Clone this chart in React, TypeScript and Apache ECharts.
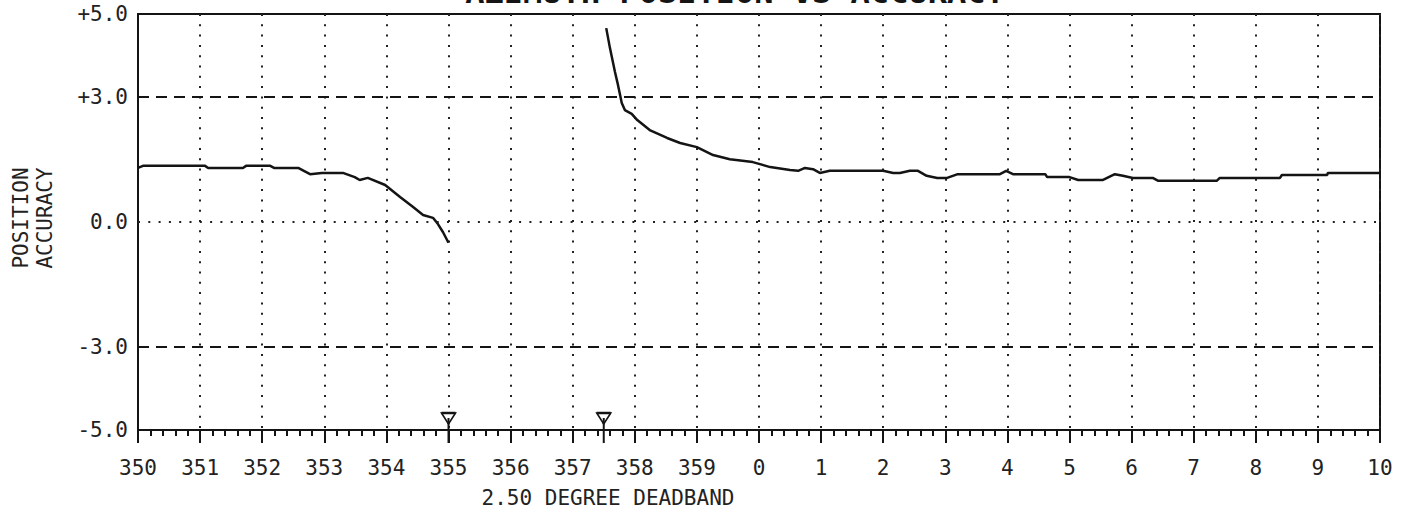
import React, { useEffect, useRef } from "react";
import * as echarts from "echarts";

// ---- data ----
const titleText = "AZIMUTH POSITION VS ACCURACY";
const xName = "2.50 DEGREE DEADBAND";
const yName = "POSITION\nACCURACY";

// azimuth expressed on an unwrapped scale (360 = 0 deg)
const xMin = 350;
const xMax = 370;
const yTickLabels: Record<string, string> = { "5": "+5.0", "3": "+3.0", "0": "0.0", "-3": "-3.0", "-5": "-5.0" };

const seg1X = [350.0, 350.08, 351.08, 351.13, 351.69, 351.74, 352.13, 352.19, 352.58, 352.77, 352.96, 353.3, 353.49, 353.57, 353.7, 353.98, 354.22, 354.43, 354.59, 354.75, 354.83, 354.91, 355.0];
const seg1Y = [1.3, 1.35, 1.35, 1.3, 1.3, 1.35, 1.35, 1.3, 1.3, 1.15, 1.18, 1.18, 1.08, 1.01, 1.06, 0.89, 0.6, 0.36, 0.17, 0.1, -0.05, -0.24, -0.5];

const seg2X = [357.54, 357.6, 357.68, 357.73, 357.79, 357.84, 357.95, 358.04, 358.24, 358.52, 358.73, 359.0, 359.26, 359.53, 359.9, 360.18, 360.5, 360.63, 360.74, 360.87, 360.98, 361.14, 362.0, 362.16, 362.27, 362.43, 362.56, 362.7, 362.87, 363.03, 363.2, 363.88, 363.98, 364.09, 364.61, 364.64, 365.0, 365.14, 365.54, 365.73, 365.86, 366.02, 366.34, 366.43, 367.37, 367.42, 368.39, 368.42, 369.15, 369.16, 370.0];
const seg2Y = [4.66, 4.18, 3.61, 3.29, 2.86, 2.69, 2.6, 2.45, 2.21, 2.02, 1.9, 1.8, 1.61, 1.51, 1.44, 1.32, 1.25, 1.23, 1.3, 1.27, 1.18, 1.23, 1.23, 1.18, 1.18, 1.23, 1.23, 1.11, 1.06, 1.06, 1.15, 1.15, 1.23, 1.15, 1.15, 1.08, 1.08, 1.01, 1.01, 1.15, 1.11, 1.06, 1.06, 0.99, 0.99, 1.06, 1.06, 1.13, 1.13, 1.18, 1.18];

const deadbandMarkers = [355, 357.5];
const dashedLevels = [3, -3];
const dottedLevels = [0];

const FONT = "'DejaVu Sans Mono', 'Liberation Mono', monospace";
const INK = "#141414";

export default function App() {
  const ref = useRef<HTMLDivElement>(null);

  useEffect(() => {
    if (!ref.current) return;
    const chart = echarts.init(ref.current, null, { renderer: "svg" });

    const seg1 = seg1X.map((x, i) => [x, seg1Y[i]]);
    const seg2 = seg2X.map((x, i) => [x, seg2Y[i]]);

    const option: any = {
      animation: false,
      backgroundColor: "#ffffff",
      grid: {
        left: 138,
        right: 34,
        top: 14,
        bottom: 81,
        show: true,
        borderColor: INK,
        borderWidth: 2,
        backgroundColor: "transparent",
      },
      xAxis: {
        type: "value",
        min: xMin,
        max: xMax,
        interval: 1,
        axisLine: { show: true, onZero: false, lineStyle: { color: INK, width: 2 } },
        axisTick: { show: true, inside: false, length: 13, lineStyle: { color: INK, width: 2 } },
        minorTick: { show: true, splitNumber: 5, length: 6, lineStyle: { color: INK, width: 2 } },
        axisLabel: {
          margin: 27,
          fontFamily: FONT,
          fontSize: 21,
          color: "#222",
          showMinLabel: true,
          showMaxLabel: true,
          formatter: (v: number) => String(v >= 360 ? v - 360 : v),
        },
        splitLine: { show: true, lineStyle: { color: "#222", width: 2, type: [2, 8.3] } },
      },
      yAxis: {
        type: "value",
        min: -5,
        max: 5,
        interval: 1,
        axisLine: { show: true, onZero: false, lineStyle: { color: INK, width: 2 } },
        axisTick: { show: false },
        splitLine: { show: false },
        axisLabel: {
          margin: 10,
          fontFamily: FONT,
          fontSize: 21,
          color: "#222",
          formatter: (v: number) => yTickLabels[String(v)] ?? "",
        },
      },
      graphic: [
        {
          type: "text",
          x: 735,
          y: -8,
          style: {
            text: titleText,
            font: `bold 32px ${FONT}`,
            fill: INK,
            align: "center",
            verticalAlign: "middle",
          },
        },
        {
          type: "text",
          x: 608,
          y: 498,
          style: {
            text: xName,
            font: `21px ${FONT}`,
            fill: "#222",
            align: "center",
            verticalAlign: "middle",
          },
        },
        {
          type: "text",
          x: 33,
          y: 218,
          rotation: Math.PI / 2,
          style: {
            text: yName,
            font: `21px ${FONT}`,
            lineHeight: 24,
            fill: "#222",
            align: "center",
            verticalAlign: "middle",
          },
        },
      ],
      series: [
        {
          type: "line",
          data: seg1,
          showSymbol: false,
          symbol: "none",
          lineStyle: { color: INK, width: 2.5 },
          markLine: {
            silent: true,
            symbol: "none",
            label: { show: false },
            data: [
              ...dashedLevels.map((v) => ({ yAxis: v, lineStyle: { color: INK, width: 2, type: [11, 7] } })),
              ...dottedLevels.map((v) => ({ yAxis: v, lineStyle: { color: "#222", width: 2, type: [2, 8.3] } })),
            ],
          },
          z: 3,
        },
        {
          type: "line",
          data: seg2,
          showSymbol: false,
          symbol: "none",
          lineStyle: { color: INK, width: 2.5 },
          z: 3,
        },
        {
          type: "custom",
          clip: false,
          data: deadbandMarkers.map((m) => [m, -5]),
          encode: { x: 0, y: 1 },
          renderItem: (params: any, api: any) => {
            const p = api.coord([api.value(0), api.value(1)]);
            const cx = p[0];
            const cy = p[1];
            return {
              type: "group",
              children: [
                {
                  type: "line",
                  shape: { x1: cx, y1: cy - 12, x2: cx, y2: cy + 13 },
                  style: { stroke: INK, lineWidth: 2 },
                },
                {
                  type: "polygon",
                  shape: { points: [[cx - 7, cy - 17], [cx + 7, cy - 17], [cx, cy - 6]] },
                  style: { fill: "#fff", stroke: INK, lineWidth: 1.6 },
                },
                {
                  type: "line",
                  shape: { x1: cx - 7, y1: cy - 17, x2: cx + 7, y2: cy - 17 },
                  style: { stroke: INK, lineWidth: 2.5 },
                },
                {
                  type: "line",
                  shape: { x1: cx, y1: cy - 12, x2: cx, y2: cy - 6 },
                  style: { stroke: INK, lineWidth: 2 },
                },
              ],
            };
          },
          z: 4,
        },
      ],
    };

    chart.setOption(option);
    return () => chart.dispose();
  }, []);

  return (
    <div
      ref={ref}
      style={{ position: "fixed", left: 0, top: 0, width: 1414, height: 511, background: "#fff" }}
    />
  );
}
